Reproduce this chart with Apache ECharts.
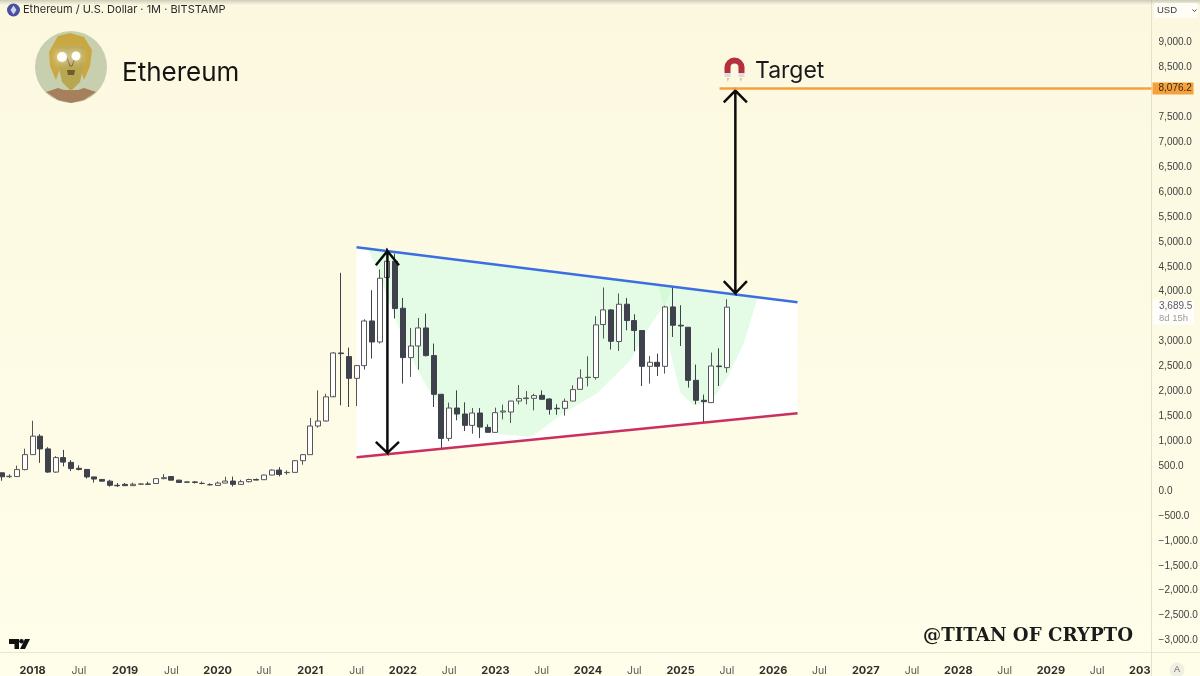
<!DOCTYPE html>
<html><head><meta charset="utf-8">
<style>html,body{margin:0;padding:0;background:#fdfae4}#c{width:1200px;height:676px}</style>
<script src="https://cdn.jsdelivr.net/npm/echarts@6/dist/echarts.min.js"></script>
</head><body><div id="c"></div>
<script>
// Monthly candles, Sep 2017 .. Jul 2025
const opens=[365,287,290,430,730,1100,845,380,670,575,455,433,283,232,198,115,133,107,136,141,150,248,290,218,180,183,152,126,112,159,199,133,187,231,227,320,420,368,374,608,729,1304,1404,1890,2770,2697,2261,2516,3412,2990,4284,4611,3667,2677,2910,3272,2717,1940,1056,1665,1545,1317,1565,1277,1177,1585,1585,1805,1854,1860,1920,1846,1660,1659,1805,2040,2276,2276,3340,3634,3000,3748,3420,3220,2502,2583,2502,3694,3326,3286,2221,1820,1773,2509,2476];
const closes=[285,297,430,730,1100,845,380,670,580,450,433,283,240,198,115,105,107,136,141,135,248,268,218,172,178,172,152,126,159,199,133,187,231,219,320,420,333,374,608,729,1304,1404,1890,2770,2757,2261,2516,3412,2990,4270,4611,3661,2677,2910,3272,2717,1940,1056,1665,1545,1317,1565,1283,1177,1572,1605,1805,1854,1867,1914,1840,1639,1650,1800,2035,2267,2283,3333,3634,3004,3748,3420,3220,2502,2583,2502,3694,3326,3312,2221,1820,1793,2509,2496,3689.5];
const lows=[205,260,280,415,730,565,365,365,495,400,414,250,170,190,85,82,100,132,125,135,147,235,213,172,165,150,135,115,112,155,90,125,173,215,225,320,293,327,374,528,729,1271,1414,1914,1720,1685,1705,2436,2657,2958,4250,3460,2155,2288,2436,2700,1685,850,1002,1418,1203,1150,1063,1177,1177,1438,1364,1739,1739,1619,1840,1532,1530,1512,1805,2040,2100,2235,3058,2838,2810,3225,2804,2107,2155,2308,2356,3091,2910,2075,1739,1384,1773,2107,2376];
const highs=[370,335,510,850,1410,1140,880,700,825,620,515,440,285,235,225,160,160,167,155,185,259,340,300,225,190,200,190,155,190,287,290,225,247,250,325,434,480,414,620,740,1464,2020,1950,2790,4377,2878,2530,3446,4029,4445,4868,4765,3874,3272,3473,3560,2958,1950,1773,2020,1780,1665,1665,1337,1673,1733,1810,2127,2006,1950,2020,1860,1740,1854,2120,2442,2703,3508,4083,3650,3963,3874,3547,3230,2710,2757,3720,4095,3728,3290,2537,1934,2778,2864,3848];

const startYear=2017, startMonth=8, monthCount=150;
const categories=[];
for(let i=0;i<monthCount;i++){const m=startMonth+i;categories.push({y:startYear+Math.floor(m/12),m:m%12});}

// Trend lines / annotations as [month index, price]
const upperTrend=[[46,4892],[103.16,3786]];
const lowerTrend=[[46,676],[103.16,1558]];
const targetPrice=8076.2, lastPrice=3689.5;
const targetLine=[[93.05,targetPrice],[149.04,targetPrice]];
const lastPoint=[[149.04,lastPrice]];
const hiddenTicks=[3500,8000];
const leftArrow=[[48.5,4530],[50,4815],[51.5,4530],[50,4815],[50,765],[48.5,985],[50,765],[51.5,985]];
const rightArrow=[[93.6,7800],[95.1,8036],[96.6,7800],[95.1,8036],[95.1,3968],[93.6,4210],[95.1,3968],[96.6,4210]];
const cupOne=[[47.4,4864],[48.46,4531],[50.4,3728],[52.35,2924],[53.9,2422],[55.6,1960],[57.5,1619],[60.8,1318],[64.66,1137],[68.55,1087],[69.85,1217],[72.8,1558],[77.2,1960],[81.5,2623],[84.1,3326],[86.05,3768],[87.1,4089]];
const cupTwo=[[85.1,4129],[85.8,3687],[86.7,2764],[88,1960],[89.7,1719],[91.9,1779],[94.1,2282],[96.2,2964],[98,3888]];
const priceTicks={min:-3000,max:9000,step:500};

const FONT='Inter, "Noto Sans", sans-serif';
const AXISFONT='"Liberation Sans", Arial, sans-serif';
const fmtPrice=v=>{const s=Math.abs(v).toLocaleString('en-US',{minimumFractionDigits:1,maximumFractionDigits:1});return (v<0?'\u2212':'')+s;};
const poly=(pts,fill,z)=>({type:'custom',xAxisIndex:1,yAxisIndex:0,z,silent:true,clip:false,data:[[pts[0][0],pts[0][1]]],
  renderItem:(p,api)=>({type:'polygon',shape:{points:pts.map(q=>api.coord(q))},style:{fill}})});
const path=(pts,color,width,z,extra)=>Object.assign({type:'line',xAxisIndex:1,yAxisIndex:0,z,silent:true,clip:false,showSymbol:false,symbol:'none',data:pts,lineStyle:{color,width,join:'miter'}},extra||{});

const chart=echarts.init(document.getElementById('c'),null,{width:1200,height:676,renderer:'canvas'});
chart.setOption({
  animation:false,
  backgroundColor:{type:'linear',x:0,y:0,x2:0,y2:1,colorStops:[{offset:0,color:'#fcf8e0'},{offset:1,color:'#fffeea'}]},
  textStyle:{fontFamily:FONT},
  grid:{left:-2.2,width:1157.25,top:42.5,height:598,outerBoundsMode:'none'},
  xAxis:[
    {type:'category',data:categories.map((c,i)=>i),boundaryGap:true,position:'bottom',offset:11.5,
     axisLine:{show:false},axisTick:{show:false},splitLine:{show:false},
     axisLabel:{show:true,margin:13,hideOverlap:false,
       interval:(i)=>categories[i].m===0||categories[i].m===6,
       formatter:(v,i)=>{const c=categories[i];return c.m===0?'{y|'+c.y+'}':'{m|Jul}';},
       rich:{y:{fontWeight:700,fontSize:11,color:'#2f2f2f',fontFamily:FONT},m:{fontSize:10.5,color:'#555',fontFamily:FONT}}}},
    {type:'value',min:-0.5,max:monthCount-0.5,show:false,splitLine:{show:false}}
  ],
  yAxis:[{type:'value',min:priceTicks.min,max:priceTicks.max,interval:priceTicks.step,position:'right',z:5,
    axisLine:{show:false},axisTick:{show:false},splitLine:{show:false},
    axisLabel:{margin:3.5,fontSize:10,color:'#3d3d3d',fontFamily:AXISFONT,formatter:v=>hiddenTicks.includes(v)?'':fmtPrice(v),showMinLabel:true,showMaxLabel:true}}],
  series:[
    poly([upperTrend[0],upperTrend[1],lowerTrend[1],lowerTrend[0]],'#ffffff',1),
    poly(cupOne,'rgba(190,248,195,0.42)',2),
    poly(cupTwo,'rgba(190,248,195,0.42)',2),
    {type:'candlestick',xAxisIndex:0,yAxisIndex:0,z:3,silent:true,barWidth:5.5,
     data:opens.map((o,i)=>[o,closes[i],lows[i],highs[i]]),
     itemStyle:{color:'#ffffff',color0:'#3f424d',borderColor:'#55555a',borderColor0:'#3f424d',borderWidth:1}},
    path(upperTrend,'#3b6fdf',2.5,4),
    path(lowerTrend,'#c9305f',2.5,4),
    path(targetLine,'#f5a03c',2.5,6,{endLabel:{show:true,formatter:()=>fmtPrice(targetPrice),distance:1,
      backgroundColor:'#f5a03c',color:'#3a2a10',fontSize:10,fontFamily:AXISFONT,padding:[1,2,1,6],width:33,height:10,lineHeight:10,align:'left'}}),
    path(leftArrow,'#0c0c0c',2.5,5),
    path(rightArrow,'#0c0c0c',2.5,5),
    {type:'scatter',xAxisIndex:1,yAxisIndex:0,z:6,silent:true,symbolSize:1,itemStyle:{color:'#f4f1dc'},data:lastPoint,
     label:{show:true,position:'right',distance:1,offset:[0,5],backgroundColor:'#ffffff',padding:[1,2,1,6],
       formatter:'{a|'+fmtPrice(lastPrice)+'}\n{b|8d 15h}',
       rich:{a:{fontSize:10,color:'#2f3140',lineHeight:12,fontFamily:AXISFONT,width:33},b:{fontSize:9.5,color:'#85858c',lineHeight:11,fontFamily:AXISFONT,width:33}}}}
  ],
  graphic:[
    {type:'rect',z:1,silent:true,shape:{x:1151,y:652,width:49,height:24},style:{fill:'#fffee9'}},
    {type:'line',z:2,silent:true,shape:{x1:0,y1:652.5,x2:1200,y2:652.5},style:{stroke:'#e9e7d3',lineWidth:1}},
    {type:'line',z:2,silent:true,shape:{x1:1151.5,y1:0,x2:1151.5,y2:676},style:{stroke:'#e3e0cc',lineWidth:1}},
    {type:'rect',z:7,silent:true,shape:{x:0,y:0,width:1200,height:5},style:{fill:{type:'linear',x:0,y:0,x2:0,y2:1,colorStops:[{offset:0,color:'rgba(150,150,140,0.45)'},{offset:1,color:'rgba(150,150,140,0)'}]}}},
    // header
    {type:'circle',z:8,silent:true,shape:{cx:13.5,cy:10,r:6.5},style:{fill:'#4a4f9e'}},
    {type:'polygon',z:9,silent:true,shape:{points:[[13.5,5.5],[16.5,10],[13.5,14.5],[10.5,10]]},style:{fill:'#cfd6f5'}},
    {type:'text',z:8,silent:true,style:{x:23,y:10,text:'Ethereum / U.S. Dollar \u00b7 1M \u00b7 BITSTAMP',fontSize:11,fontFamily:FONT,fill:'#2a2a2a',verticalAlign:'middle'}},
    {type:'text',z:8,silent:true,style:{x:122,y:73,text:'Ethereum',fontSize:26,fontFamily:FONT,fill:'#141414',verticalAlign:'middle'}},
    // avatar
    {type:'circle',z:8,silent:true,shape:{cx:71,cy:67,r:36},style:{fill:'#c7cfae'}},
    {type:'polygon',z:8,silent:true,shape:{points:[[46,92],[58,88],[64,90],[78,90],[84,88],[96,92],[84,100],[71,103],[58,100]]},style:{fill:'#a67f5c'}},
    {type:'polygon',z:8,silent:true,shape:{points:[[58,36],[70,33],[84,37],[92,50],[90,66],[84,80],[80,68],[60,68],[56,80],[50,66],[49,52]]},style:{fill:'#c9a842'}},
    {type:'polygon',z:8,silent:true,shape:{points:[[58,46],[84,46],[83,68],[80,82],[71,91],[62,82],[59,68]]},style:{fill:'#b9a650'}},
    {type:'polygon',z:8,silent:true,shape:{points:[[67,70],[75,70],[74,75],[68,75]]},style:{fill:'#6e5c30'}},
    {type:'polyline',z:8,silent:true,shape:{points:[[66,55],[70,66],[72,66],[76,55]]},style:{fill:'none',stroke:'#6e5c30',lineWidth:1}},
    {type:'circle',z:9,silent:true,shape:{cx:62,cy:57,r:5},style:{fill:'#fffef4',shadowBlur:8,shadowColor:'#fff'}},
    {type:'circle',z:9,silent:true,shape:{cx:76,cy:56,r:4.5},style:{fill:'#fffef4',shadowBlur:8,shadowColor:'#fff'}},
    // magnet + target
    {type:'arc',z:8,silent:true,shape:{cx:734.5,cy:67.5,r:7,startAngle:Math.PI,endAngle:Math.PI*2},style:{fill:'none',stroke:'#b4303c',lineWidth:6}},
    {type:'rect',z:8,silent:true,shape:{x:724.5,y:67,width:6,height:6},style:{fill:'#b4303c'}},
    {type:'rect',z:8,silent:true,shape:{x:738.5,y:67,width:6,height:6},style:{fill:'#b4303c'}},
    {type:'rect',z:8,silent:true,shape:{x:724.5,y:73,width:6,height:4},style:{fill:'#d9dde0'}},
    {type:'rect',z:8,silent:true,shape:{x:738.5,y:73,width:6,height:4},style:{fill:'#d9dde0'}},
    {type:'polygon',z:8,silent:true,shape:{points:[[727,78],[729,78],[727.8,82]]},style:{fill:'#e9b06a'}},
    {type:'polygon',z:8,silent:true,shape:{points:[[740,78],[742,78],[740.8,82]]},style:{fill:'#e9b06a'}},
    {type:'text',z:8,silent:true,style:{x:755,y:71,text:'Target',fontSize:23,fontFamily:FONT,fill:'#1a1a1a',verticalAlign:'middle'}},
    // USD selector
    {type:'rect',z:8,silent:true,shape:{x:1154,y:3,width:44,height:15,r:2},style:{fill:'#fffef6'}},
    {type:'text',z:9,silent:true,style:{x:1157,y:10.5,text:'USD',fontSize:9.5,fontFamily:AXISFONT,fill:'#3a3a3a',verticalAlign:'middle'}},
    {type:'polyline',z:9,silent:true,shape:{points:[[1192.5,9.5],[1194.5,11.5],[1196.5,9.5]]},style:{fill:'none',stroke:'#444',lineWidth:1}},
    // TV logo
    {type:'polygon',z:8,silent:true,shape:{points:[[9,639],[19,639],[19,649],[14.5,649],[14.5,644],[9,644]]},style:{fill:'#111'}},
    {type:'circle',z:8,silent:true,shape:{cx:21.5,cy:641.3,r:2.3},style:{fill:'#111'}},
    {type:'polygon',z:8,silent:true,shape:{points:[[25,639],[30,639],[25,649],[20,649]]},style:{fill:'#111'}},
    // watermark
    {type:'text',z:8,silent:true,style:{x:923,y:636,text:'@TITAN OF CRYPTO',fontSize:18.2,fontWeight:700,fontFamily:'"DejaVu Serif", serif',fill:'#1b1b1b',verticalAlign:'middle'}},
    // auto button
    {type:'circle',z:8,silent:true,shape:{cx:1177,cy:670,r:7.5},style:{fill:'#f0efe3'}},
    {type:'text',z:9,silent:true,style:{x:1177,y:670,text:'A',fontSize:9,fontFamily:AXISFONT,fill:'#666',align:'center',verticalAlign:'middle'}}
  ]
});
</script></body></html>
